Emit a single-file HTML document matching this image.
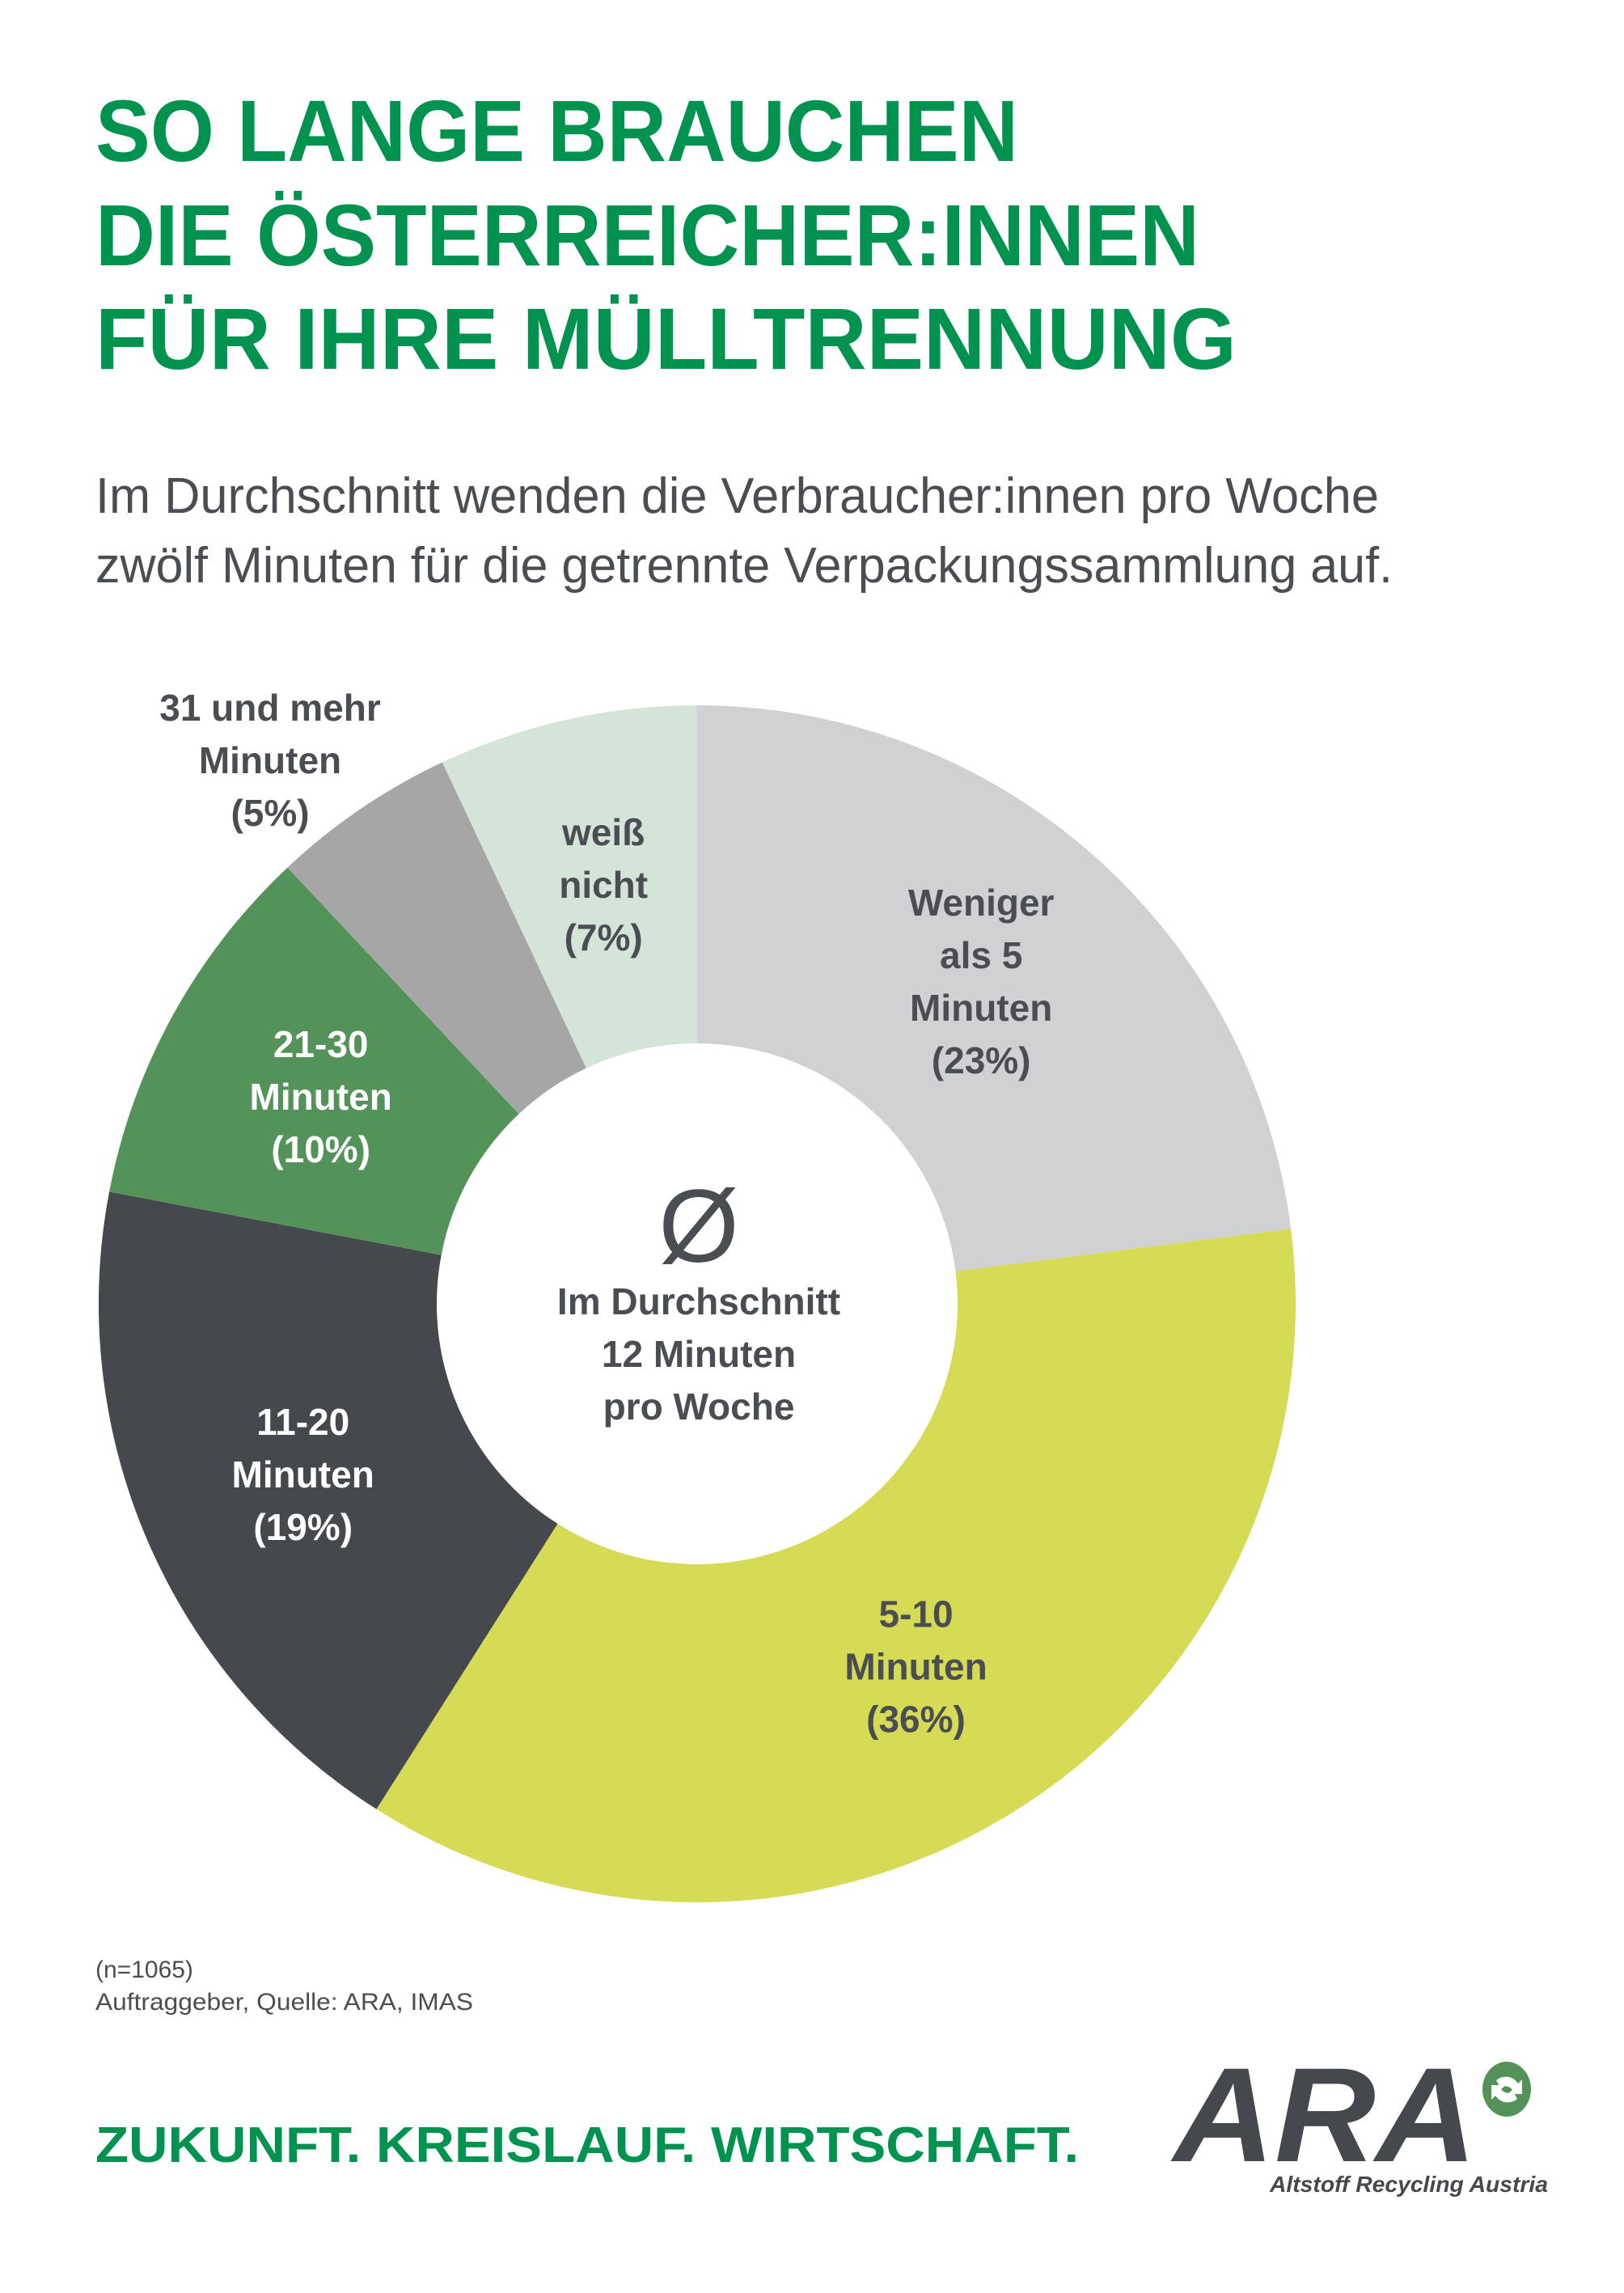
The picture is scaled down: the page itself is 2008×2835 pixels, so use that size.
<!DOCTYPE html>
<html><head><meta charset="utf-8"><style>
html,body{margin:0;padding:0;background:#fff;}
svg{display:block;font-family:"Liberation Sans",sans-serif;}
</style></head><body>
<svg id="chart" width="2008" height="2835" viewBox="0 0 2008 2835" xmlns="http://www.w3.org/2000/svg">
<rect width="2008" height="2835" fill="#ffffff"/>
<g fill="#00934f" font-weight="bold" font-size="108">
<text x="118" y="199" textLength="1141" lengthAdjust="spacingAndGlyphs">SO LANGE BRAUCHEN</text>
<text x="118" y="328" textLength="1365" lengthAdjust="spacingAndGlyphs">DIE ÖSTERREICHER:INNEN</text>
<text x="118" y="456" textLength="1411" lengthAdjust="spacingAndGlyphs">FÜR IHRE MÜLLTRENNUNG</text>
</g>
<g fill="#4a4d52" font-size="62">
<text x="118" y="634" textLength="1587" lengthAdjust="spacingAndGlyphs">Im Durchschnitt wenden die Verbraucher:innen pro Woche</text>
<text x="118" y="720" textLength="1604" lengthAdjust="spacingAndGlyphs">zwölf Minuten für die getrennte Verpackungssammlung auf.</text>
</g>
<g id="pie"></g>
<g fill="#4a4d52" text-anchor="middle" font-weight="bold">
<text x="864" y="1560" font-size="128" font-weight="normal">Ø</text>
<text x="864" y="1625" font-size="46">Im Durchschnitt</text>
<text x="864" y="1690" font-size="46">12 Minuten</text>
<text x="864" y="1755" font-size="46">pro Woche</text>
</g>
<g fill="#4a4d52" font-size="30">
<text x="118" y="2445">(n=1065)</text>
<text x="118" y="2485" textLength="467" lengthAdjust="spacingAndGlyphs">Auftraggeber, Quelle: ARA, IMAS</text>
</g>
<text x="118" y="2673" fill="#00934f" font-weight="bold" font-size="62" textLength="1216" lengthAdjust="spacingAndGlyphs">ZUKUNFT. KREISLAUF. WIRTSCHAFT.</text>
<g>
<text x="1451" y="2672" fill="#45484d" font-weight="bold" font-style="italic" font-size="166" textLength="375" lengthAdjust="spacingAndGlyphs">ARA</text>
<ellipse cx="1863" cy="2583" rx="30" ry="34" fill="#539359"/>
<path d="M1850 2572 a18 18 0 0 1 27 4 l5 -5 v18 h-18 l6 -5 a11 11 0 0 0 -15 -3 z M1876 2595 a18 18 0 0 1 -27 -4 l-5 5 v-18 h18 l-6 5 a11 11 0 0 0 15 3 z" fill="#ffffff"/>
<text x="1570" y="2710" fill="#45484d" font-weight="bold" font-style="italic" font-size="28" textLength="344" lengthAdjust="spacingAndGlyphs">Altstoff Recycling Austria</text>
</g>
</svg>
<script>
const categories = ["Weniger als 5 Minuten", "5-10 Minuten", "11-20 Minuten", "21-30 Minuten", "31 und mehr Minuten", "weiß nicht"];
const values = [23, 36, 19, 10, 5, 7];
const labelLines = [["Weniger","als 5","Minuten","(23%)"],["5-10","Minuten","(36%)"],["11-20","Minuten","(19%)"],["21-30","Minuten","(10%)"],["31 und mehr","Minuten","(5%)"],["weiß","nicht","(7%)"]];
const colors = ["#d0d1d3","#d6db56","#45484d","#539359","#a6a6a6","#d5e4d8"];
const textColors = ["#4a4d52","#4a4d52","#ffffff","#ffffff","#4a4d52","#4a4d52"];
const NS = "http://www.w3.org/2000/svg";
const cx = 862, cy = 1612, R = 740, r0 = 322;
const total = values.reduce((a,b)=>a+b,0);
function ang(v){ return v/total*2*Math.PI; }
function pt(a, rad){ return [cx + rad*Math.sin(a), cy - rad*Math.cos(a)]; }
const g = document.getElementById('pie');
let acc = 0;
values.forEach((v,i)=>{
  const a0 = ang(acc), a1 = ang(acc+v); acc += v;
  const large = (a1-a0) > Math.PI ? 1 : 0;
  const p0 = pt(a0,R), p1 = pt(a1,R), q1 = pt(a1,r0), q0 = pt(a0,r0);
  const path = document.createElementNS(NS,'path');
  path.setAttribute('d',`M${p0[0]} ${p0[1]} A${R} ${R} 0 ${large} 1 ${p1[0]} ${p1[1]} L${q1[0]} ${q1[1]} A${r0} ${r0} 0 ${large} 0 ${q0[0]} ${q0[1]} Z`);
  path.setAttribute('fill',colors[i]);
  
  
  g.appendChild(path);
  const mid = (a0+a1)/2;
  let c = pt(mid,(R+r0)/2);
  if (i === 4) { c = [334, 940]; }
  if (i === 1) { c[0] -= 14; }
  const lines = labelLines[i];
  const lh = 65;
  const t = document.createElementNS(NS,'text');
  t.setAttribute('text-anchor','middle');
  t.setAttribute('font-weight','bold');
  t.setAttribute('font-size','46');
  t.setAttribute('fill', textColors[i]);
  
  
  lines.forEach((s,k)=>{
    const ts = document.createElementNS(NS,'tspan');
    ts.setAttribute('x', c[0]);
    ts.setAttribute('y', c[1] + 16 + (k - (lines.length-1)/2)*lh);
    ts.textContent = s;
    t.appendChild(ts);
  });
  g.appendChild(t);
});
</script>
</body></html>
